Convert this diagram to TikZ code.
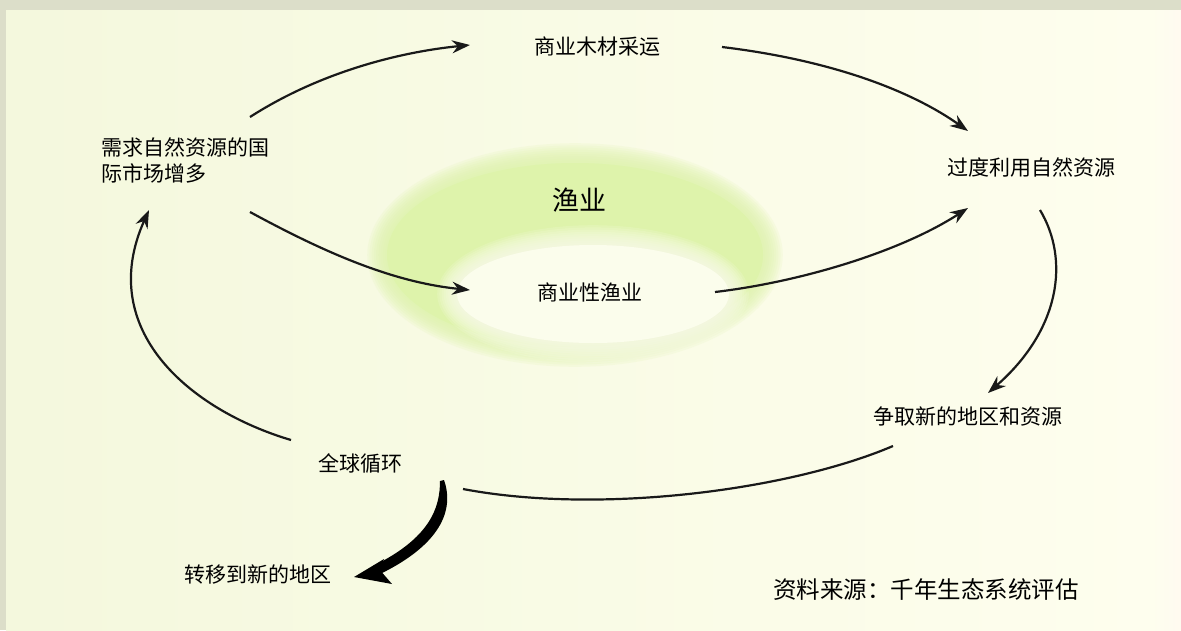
\documentclass[tikz,border=0pt]{standalone}
\usepackage{fontspec}
\setmainfont{Noto Sans CJK SC}
\usetikzlibrary{arrows.meta}
\definecolor{frame}{HTML}{DCDEC9}
\definecolor{bgleft}{HTML}{F4F8DD}
\definecolor{bgright}{HTML}{FEFEEE}
\definecolor{ringgreen}{HTML}{DEF3AB}
\definecolor{ringin}{HTML}{FBFDEC}
\tikzset{
  lbl/.style={inner sep=0pt, font=\fontsize{21}{26}\selectfont, text=black},
  big/.style={inner sep=0pt, font=\fontsize{27}{30}\selectfont, text=black},
  flow/.style={line width=2.2pt, draw=black!90, -{Stealth[length=18pt,width=13pt]}},
  plain/.style={line width=2.2pt, draw=black!90},
}
\begin{document}
\begin{tikzpicture}[x=1pt,y=-1pt]
\useasboundingbox (0,0) rectangle (1181,630);
\fill[frame] (0,0) rectangle (1181,630);
\shade[left color=bgleft, right color=bgright] (6,10) rectangle (1150,630);
\shade[left color=bgright, right color=bgright!92!orange!40!white] (1150,10) rectangle (1181,630);
% ring (soft edges)
\foreach \k in {0,...,9}
  \fill[ringgreen, opacity=0.16] (575,255) ellipse [x radius=188+2.2*\k, y radius=92+2.2*\k];
\fill[ringgreen] (575,255) ellipse [x radius=188, y radius=92];
\foreach \k in {0,...,9}
  \fill[ringin, opacity=0.16] (593,294) ellipse [x radius=136+2.2*\k, y radius=49+2.2*\k];
\fill[ringin] (593,294) ellipse [x radius=136, y radius=49];
% texts
\node[lbl] (timber) at (597,47) {商业木材采运};
\node[lbl, align=left, anchor=west] (market) at (101,160) {需求自然资源的国\\际市场增多};
\node[lbl] (overuse) at (1031,167) {过度利用自然资源};
\node[big] (fish) at (579,200) {渔业};
\node[lbl] (comfish) at (590,292) {商业性渔业};
\node[lbl] (compete) at (968,416) {争取新的地区和资源};
\node[lbl] (cycle) at (360,463) {全球循环};
\node[lbl] (move) at (258,575) {转移到新的地区};
\node[lbl, font=\fontsize{23.5}{26}\selectfont] (source) at (926,590) {资料来源：千年生态系统评估};
% connector end points
\coordinate (m1) at (250,117);   \coordinate (t1) at (470,45);
\coordinate (t2) at (722,47);    \coordinate (o1) at (968,131);
\coordinate (m2) at (250,212);   \coordinate (c1) at (470,290);
\coordinate (c2) at (715,292);   \coordinate (o2) at (968,208);
\coordinate (o3) at (1040,210);  \coordinate (p1) at (988,393);
\coordinate (p2) at (893,446);   \coordinate (g1) at (463,489);
\coordinate (g2) at (291,440);   \coordinate (m3) at (149,210);
% connectors
\draw[flow] (m1) .. controls (320,72) and (400,52) .. (t1);
\draw[flow] (t2) .. controls (830,60) and (910,90) .. (o1);
\draw[flow] (m2) .. controls (320,250) and (390,282) .. (c1);
\draw[flow] (c2) .. controls (800,282) and (900,252) .. (o2);
\draw[flow] (o3) .. controls (1070,260) and (1060,330) .. (p1);
\draw[plain] (p2) .. controls (790,490) and (600,515) .. (g1);
\draw[flow] (g2) .. controls (190,410) and (95,330) .. (m3);
% thick tapered arrow
\coordinate (s1) at (444,480); \coordinate (s2) at (354,577);
\fill[black] (s1) .. controls (453,505) and (447,542) .. (378,575)
  -- (373,566) .. controls (430,538) and (440,508) .. (440,481) -- cycle;
\fill[black] (s2) -- (384,559) -- (379,569) -- (392,584) -- cycle;
\end{tikzpicture}
\end{document}
